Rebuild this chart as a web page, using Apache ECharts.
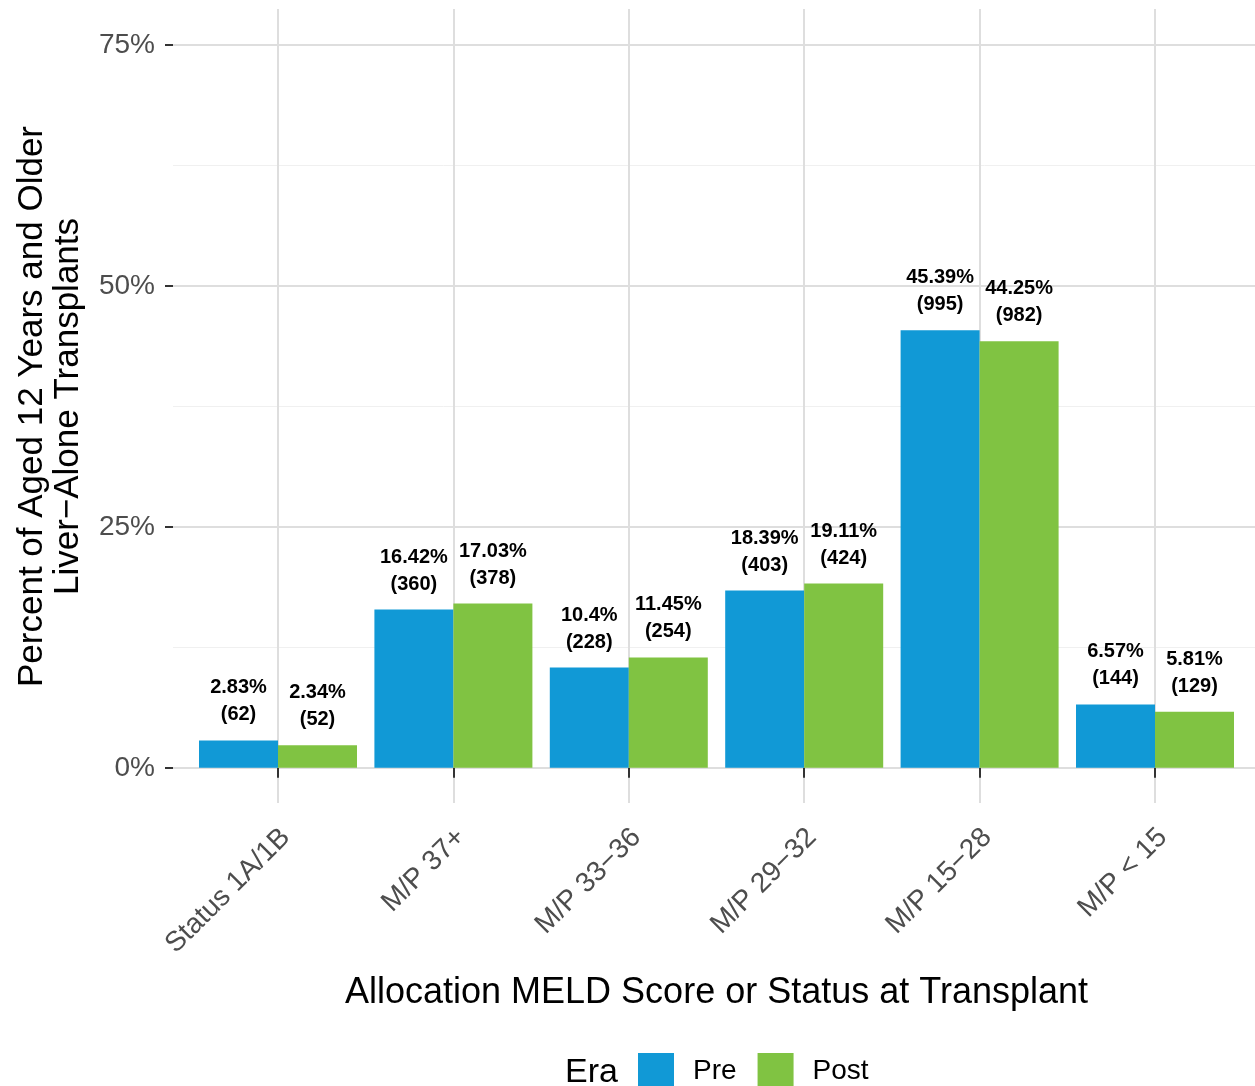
<!DOCTYPE html>
<html>
<head>
<meta charset="utf-8">
<script src="https://cdn.jsdelivr.net/npm/echarts@6/dist/echarts.min.js"></script>
<style>
  html, body { margin: 0; padding: 0; background: #fff; }
  #chart { width: 1255px; height: 1086px; }
</style>
</head>
<body>
<div id="chart"></div>
<script>
  // data
  const categories = ['Status 1A/1B', 'M/P 37+', 'M/P 33\u221236', 'M/P 29\u221232', 'M/P 15\u221228', 'M/P < 15'];
  const prePct = [2.83, 16.42, 10.4, 18.39, 45.39, 6.57];
  const preN = [62, 360, 228, 403, 995, 144];
  const postPct = [2.34, 17.03, 11.45, 19.11, 44.25, 5.81];
  const postN = [52, 378, 254, 424, 982, 129];
  const yTicks = [0, 25, 50, 75];

  const myChart = echarts.init(document.getElementById('chart'));

  const font = 'Liberation Sans, Arial, Helvetica, sans-serif';
  const gridColor = '#dedede';

  const barLabel = (counts) => ({
    show: true,
    position: 'top',
    distance: 12,
    fontFamily: font,
    fontSize: 20,
    fontWeight: 'bold',
    color: '#000',
    lineHeight: 27,
    formatter: (p) => p.value + '%\n(' + counts[p.dataIndex] + ')'
  });

  const option = {
    backgroundColor: '#fff',
    animation: false,
    textStyle: { fontFamily: font },
    grid: [
      // panel for y axis + horizontal gridlines (0..75)
      { left: 173, top: 45, width: 1087, height: 723 },
      // panel for the bars, category centres at the edges
      { left: 278, top: 9, width: 877, height: 794 }
    ],
    legend: {
      data: ['Pre', 'Post'],
      left: 638,
      top: 1053,
      padding: 0,
      itemWidth: 36,
      itemHeight: 36,
      itemGap: 21,
      icon: 'rect',
      textStyle: { fontFamily: font, fontSize: 28, color: '#000', padding: [0, 0, 0, 14] }
    },
    graphic: [
      {
        type: 'text',
        left: 565,
        top: 1056,
        style: { text: 'Era', font: '34px ' + font, fill: '#000' }
      }
    ],
    xAxis: [
      { type: 'value', gridIndex: 0, show: false, min: 0, max: 1 },
      {
        type: 'category',
        gridIndex: 1,
        data: categories,
        boundaryGap: false,
        axisLine: { show: false },
        axisTick: { show: true, length: 10, lineStyle: { color: '#333', width: 2 } },
        splitLine: { show: true, lineStyle: { color: gridColor, width: 2 } },
        axisLabel: {
          rotate: 45,
          margin: 11,
          verticalAlign: 'top',
          padding: [5, 8, 0, 0],
          fontFamily: font,
          fontSize: 28,
          color: '#4d4d4d'
        },
        name: 'Allocation MELD Score or Status at Transplant',
        nameLocation: 'middle',
        nameGap: 172,
        nameTextStyle: { fontFamily: font, fontSize: 36, color: '#000' }
      }
    ],
    yAxis: [
      {
        type: 'value',
        gridIndex: 0,
        min: 0,
        max: 75,
        interval: 25,
        axisLine: { show: false },
        axisTick: { show: true, length: 8, lineStyle: { color: '#333', width: 2 } },
        axisLabel: {
          formatter: '{value}%',
          margin: 18,
          fontFamily: font,
          fontSize: 28,
          color: '#4d4d4d',
          customValues: yTicks
        },
        splitLine: { show: true, lineStyle: { color: gridColor, width: 2 } },
        minorTick: { show: false, splitNumber: 2 },
        minorSplitLine: { show: true, lineStyle: { color: '#f0f0f0', width: 1 } },
        name: 'Percent of Aged 12 Years and Older\nLiver\u2212Alone Transplants',
        nameLocation: 'middle',
        nameRotate: 90,
        nameGap: 87,
        nameTextStyle: { fontFamily: font, fontSize: 35, color: '#000', lineHeight: 36 }
      },
      {
        type: 'value',
        gridIndex: 1,
        min: -3.66,
        max: 78.73,
        show: false,
        splitLine: { show: false }
      }
    ],
    series: [
      {
        name: 'Pre',
        type: 'bar',
        xAxisIndex: 1,
        yAxisIndex: 1,
        data: prePct,
        barWidth: 79,
        barGap: '0%',
        clip: false,
        itemStyle: { color: '#1199d6' },
        label: barLabel(preN)
      },
      {
        name: 'Post',
        type: 'bar',
        xAxisIndex: 1,
        yAxisIndex: 1,
        data: postPct,
        barWidth: 79,
        barGap: '0%',
        clip: false,
        itemStyle: { color: '#80c342' },
        label: barLabel(postN)
      }
    ]
  };

  myChart.setOption(option);
</script>
</body>
</html>
